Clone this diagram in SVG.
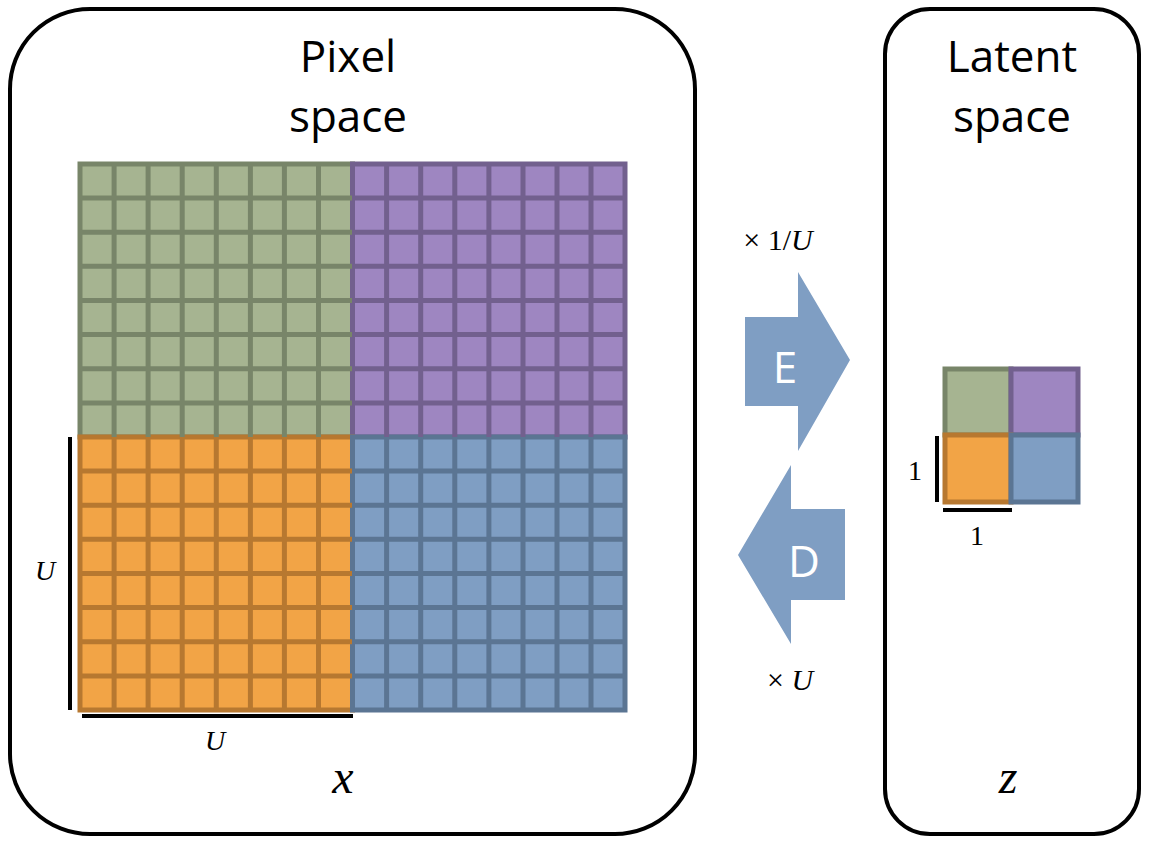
<svg xmlns="http://www.w3.org/2000/svg" width="1152" height="847" viewBox="0 0 1152 847">
<style>
.box{fill:#fff;stroke:#000;stroke-width:4}
.t{font-family:"Open Sans","Noto Sans",sans-serif;font-size:44px;fill:#000;text-anchor:middle}
.m{font-family:"Liberation Serif",serif;font-style:italic;fill:#000;text-anchor:middle}
.n{font-family:"Liberation Serif",serif;fill:#000;text-anchor:middle}
.g{fill:#a6b491;stroke:#788569}.p{fill:#9e86c1;stroke:#72608e}.o{fill:#f2a446;stroke:#b77830}.b{fill:#7f9ec3;stroke:#5b7593}
.ar{fill:#7f9ec3}
</style>
<defs>
<pattern id="gl" x="80" y="164" width="34.1" height="34.1" patternUnits="userSpaceOnUse"><rect x="0" y="0" width="34.1" height="34.1" fill="none" stroke="inherit"/></pattern>
</defs>
<g id="pixel"><rect class="box" x="10" y="9" width="685" height="825" rx="80"/>
<text class="t" x="348" y="72">Pixel</text><text class="t" x="348" y="132">space</text></g>
<g id="latent"><rect class="box" x="885" y="9" width="254" height="825" rx="45"/>
<text class="t" x="1012" y="72">Latent</text><text class="t" x="1012" y="132">space</text></g>
<g id="grid" stroke-width="5">
<rect class="g" x="80" y="164" width="272.5" height="273"/>
<rect class="p" x="352.5" y="164" width="272.5" height="273"/>
<rect class="o" x="80" y="437" width="272.5" height="273"/>
<rect class="b" x="352.5" y="437" width="272.5" height="273"/>
<path stroke="#788569" d="M114.1 164V437M148.1 164V437M182.2 164V437M216.3 164V437M250.4 164V437M284.4 164V437M318.5 164V437M80 198.1H352M80 232.2H352M80 266.3H352M80 300.5H352M80 334.6H352M80 368.8H352M80 402.9H352"/>
<path stroke="#72608e" d="M386.6 164V437M420.7 164V437M454.8 164V437M488.9 164V437M523 164V437M557 164V437M591 164V437M353 198.1H625M353 232.2H625M353 266.3H625M353 300.5H625M353 334.6H625M353 368.8H625M353 402.9H625"/>
<path stroke="#b77830" d="M114.1 437V710M148.1 437V710M182.2 437V710M216.3 437V710M250.4 437V710M284.4 437V710M318.5 437V710M80 471.1H352M80 505.2H352M80 539.3H352M80 573.5H352M80 607.6H352M80 641.8H352M80 675.9H352"/>
<path stroke="#5b7593" d="M386.6 437V710M420.7 437V710M454.8 437V710M488.9 437V710M523 437V710M557 437V710M591 437V710M353 471.1H625M353 505.2H625M353 539.3H625M353 573.5H625M353 607.6H625M353 641.8H625M353 675.9H625"/>
</g>
<g id="dims" stroke="#000" stroke-width="4">
<path d="M70 437V710M82 716H353"/>
<path d="M937 436V502M943 510H1012"/>
</g>
<text class="m" x="45" y="580" font-size="28">U</text>
<text class="m" x="215" y="750" font-size="28">U</text>
<text class="m" x="343" y="793" font-size="48">x</text>
<text class="m" x="1008" y="793" font-size="48">z</text>
<text class="n" x="915" y="480" font-size="28">1</text>
<text class="n" x="977" y="545" font-size="28">1</text>
<g id="latentgrid" stroke-width="5">
<rect class="g" x="945" y="369" width="66" height="66"/>
<rect class="p" x="1011" y="369" width="67" height="66"/>
<rect class="o" x="945" y="435" width="66" height="67"/>
<rect class="b" x="1011" y="435" width="67" height="67"/>
</g>
<g id="E"><polygon class="ar" points="745,317 798,317 798,272 850,360 798,451 798,406 745,406"/>
<text x="785" y="383" font-family="Open Sans,sans-serif" font-size="44" fill="#fff" text-anchor="middle">E</text></g>
<g id="D"><polygon class="ar" points="845,509 791,509 791,465 738,555 791,644 791,600 845,600"/>
<text x="804" y="577" font-family="Open Sans,sans-serif" font-size="44" fill="#fff" text-anchor="middle">D</text></g>
<text class="n" x="778" y="250" font-size="30">× 1/<tspan font-style="italic">U</tspan></text>
<text class="n" x="790" y="690" font-size="30">× <tspan font-style="italic">U</tspan></text>
</svg>
